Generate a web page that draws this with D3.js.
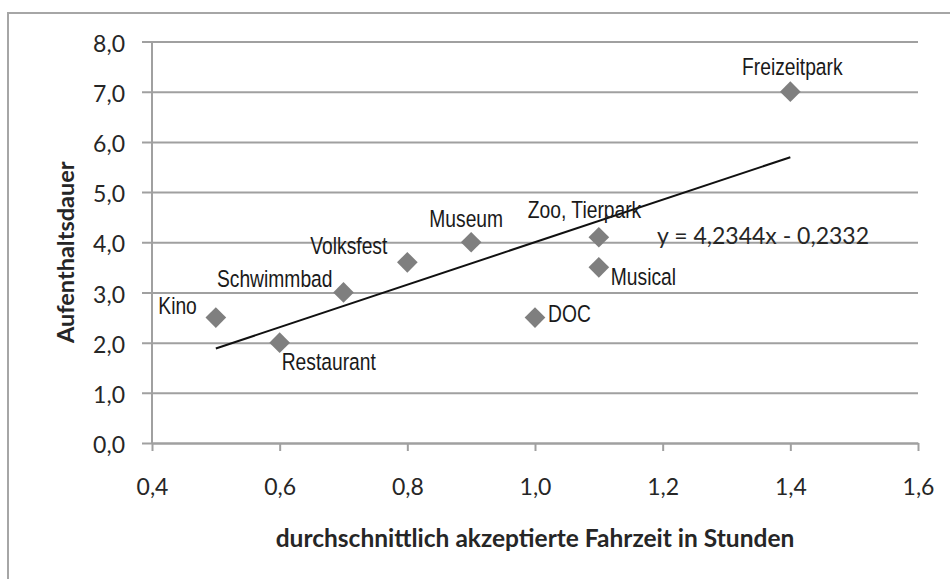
<!DOCTYPE html>
<html>
<head>
<meta charset="utf-8">
<script src="https://cdn.jsdelivr.net/npm/d3@7"></script>
<style>
  html, body { margin: 0; padding: 0; background: #fff; }
  svg { display: block; }
</style>
</head>
<body>
<svg id="chart" width="950" height="579"></svg>
<script>
// Leisure destinations: accepted travel time vs. length of stay
const categories   = ["Kino", "Restaurant", "Schwimmbad", "Volksfest", "Museum", "DOC", "Zoo, Tierpark", "Musical", "Freizeitpark"];
const travelTime   = [0.5, 0.6, 0.7, 0.8, 0.9, 1.0, 1.1, 1.1, 1.4];
const stayDuration = [2.5, 2.0, 3.0, 3.6, 4.0, 2.5, 4.1, 3.5, 7.0];

const xTickValues = [0.4, 0.6, 0.8, 1.0, 1.2, 1.4, 1.6];
const yTickValues = [0, 1, 2, 3, 4, 5, 6, 7, 8];

// Linear trend line y = a·x + b, drawn across the data range
const trendSlope = 4.2344;
const trendIntercept = -0.2332;
const trendLabel = "y = 4,2344x - 0,2332";

const xTitle = "durchschnittlich akzeptierte Fahrzeit in Stunden";
const yTitle = "Aufenthaltsdauer";

// Where each point label sits relative to its marker (pixels)
const labelPlacement = {
  "Kino":          { anchor: "end",    dx: -19,  dy: -3.5 },
  "Restaurant":    { anchor: "start",  dx: 2,    dy: 27.5 },
  "Schwimmbad":    { anchor: "end",    dx: -11,  dy: -5 },
  "Volksfest":     { anchor: "end",    dx: -20,  dy: -8 },
  "Museum":        { anchor: "middle", dx: -5,   dy: -15 },
  "DOC":           { anchor: "start",  dx: 13,   dy: 4 },
  "Zoo, Tierpark": { anchor: "start",  dx: -71,  dy: -19 },
  "Musical":       { anchor: "start",  dx: 12,   dy: 17.7 },
  "Freizeitpark":  { anchor: "middle", dx: 2,    dy: -16.7 }
};

const points = categories.map((name, i) => ({ name, x: travelTime[i], y: stayDuration[i] }));

const svg = d3.select("#chart");
const gridColor = "#a0a0a0";
const textColor = "#262626";
const numFont = "Lato, 'Open Sans', sans-serif";
const labelFont = "'Liberation Sans', Arial, sans-serif";

const x = d3.scaleLinear().domain([0.4, 1.6]).range([152, 918]);
const y = d3.scaleLinear().domain([0, 8]).range([443, 41.5]);

// Chart frame
svg.append("rect")
  .attr("x", 8).attr("y", 13)
  .attr("width", 1000).attr("height", 1000)
  .attr("fill", "none")
  .attr("stroke", "#a6a6a6")
  .attr("stroke-width", 2);

// Horizontal gridlines + y tick labels
const yAxis = svg.append("g")
  .attr("transform", "translate(142,0)")
  .call(d3.axisLeft(y)
    .tickValues(yTickValues)
    .tickSize(-(918 - 142))
    .tickPadding(17)
    .tickFormat(d => d3.format(".1f")(d).replace(".", ",")));
yAxis.select(".domain").remove();
yAxis.selectAll(".tick line").attr("stroke", gridColor).attr("stroke-width", 2);
yAxis.selectAll(".tick text")
  .attr("dy", "0.42em")
  .attr("fill", textColor)
  .style("font-family", numFont)
  .style("font-size", "23px");

// Vertical axis line
svg.append("line")
  .attr("x1", x(0.4)).attr("x2", x(0.4))
  .attr("y1", y(8)).attr("y2", y(0))
  .attr("stroke", gridColor).attr("stroke-width", 2);

// X axis with tick marks
const xAxis = svg.append("g")
  .attr("transform", `translate(0,${y(0)})`)
  .call(d3.axisBottom(x)
    .tickValues(xTickValues)
    .tickSize(8)
    .tickSizeOuter(0)
    .tickPadding(28)
    .tickFormat(d => d3.format(".1f")(d).replace(".", ",")));
xAxis.select(".domain").attr("stroke", gridColor).attr("stroke-width", 2);
xAxis.selectAll(".tick line").attr("stroke", gridColor).attr("stroke-width", 2);
xAxis.selectAll(".tick text")
  .attr("dy", "0.71em")
  .attr("fill", textColor)
  .style("font-family", numFont)
  .style("font-size", "23px");

// Axis titles
svg.append("text")
  .attr("x", (x.range()[0] + x.range()[1]) / 2)
  .attr("y", 546.5)
  .attr("text-anchor", "middle")
  .attr("fill", textColor)
  .style("font-family", numFont)
  .style("font-weight", "bold")
  .style("font-size", "24.5px")
  .text(xTitle);

svg.append("text")
  .attr("transform", `translate(74,${(y.range()[0] + y.range()[1]) / 2 + 10}) rotate(-90)`)
  .attr("text-anchor", "middle")
  .attr("fill", textColor)
  .style("font-family", numFont)
  .style("font-weight", "bold")
  .style("font-size", "23.5px")
  .text(yTitle);

// Trend line
const xMin = d3.min(travelTime), xMax = d3.max(travelTime);
svg.append("line")
  .attr("x1", x(xMin)).attr("y1", y(trendSlope * xMin + trendIntercept))
  .attr("x2", x(xMax)).attr("y2", y(trendSlope * xMax + trendIntercept))
  .attr("stroke", "#111")
  .attr("stroke-width", 2);

// Diamond markers
const diamond = d3.symbol().type(d3.symbolSquare).size(214);
svg.append("g").selectAll("path")
  .data(points)
  .join("path")
  .attr("d", diamond)
  .attr("transform", d => `translate(${x(d.x)},${y(d.y)}) rotate(45)`)
  .attr("fill", "#7f7f7f");

// Point labels (condensed sans)
svg.append("g").selectAll("g")
  .data(points)
  .join("g")
  .attr("transform", d => {
    const p = labelPlacement[d.name];
    return `translate(${x(d.x) + p.dx},${y(d.y) + p.dy}) scale(0.82,1)`;
  })
  .append("text")
  .attr("text-anchor", d => labelPlacement[d.name].anchor)
  .attr("fill", "#1a1a1a")
  .style("font-family", labelFont)
  .style("font-size", "23.5px")
  .text(d => d.name);

// Trend equation
svg.append("text")
  .attr("x", 657)
  .attr("y", 244)
  .attr("fill", textColor)
  .style("font-family", numFont)
  .style("font-size", "23px")
  .text(trendLabel);
</script>
</body>
</html>
